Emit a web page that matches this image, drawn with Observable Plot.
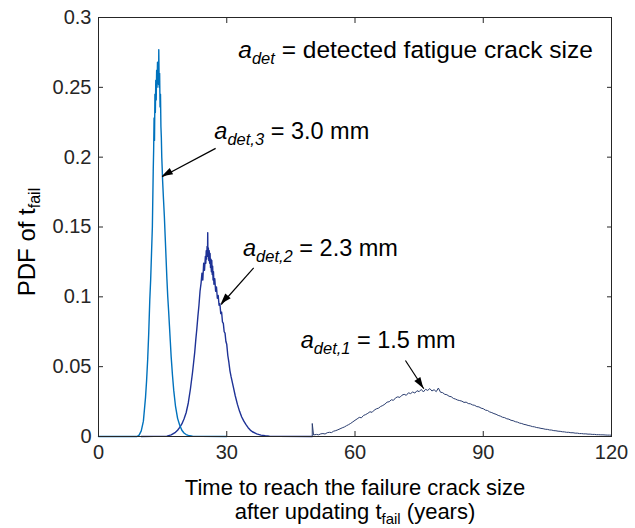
<!DOCTYPE html>
<html><head><meta charset="utf-8">
<script src="https://cdn.jsdelivr.net/npm/d3@7"></script>
<script src="https://cdn.jsdelivr.net/npm/@observablehq/plot@0.6"></script>
<style>body{margin:0;background:#fff} svg{display:block}</style>
</head><body><div id="chart"></div>
<script>
const xTicks = [0, 30, 60, 90, 120];
const yTicks = [0, 0.05, 0.1, 0.15, 0.2, 0.25, 0.3];
const yTickLabels = ["0", "0.05", "0.1", "0.15", "0.2", "0.25", "0.3"];

// a_det,3 = 3.0 mm  [time, pdf]
const curve3 = [[0,0],[9,0],[9.5,0.001],[10,0.004],[10.5,0.011],[11,0.028],[11.25,0.04],[11.5,0.055],[11.75,0.074],[12,0.098],[12.2,0.112],[12.4,0.131],[12.6,0.15],[12.8,0.19],[12.9,0.205],[13,0.228],[13.1,0.212],[13.2,0.245],[13.3,0.232],[13.4,0.255],[13.5,0.241],[13.6,0.262],[13.7,0.25],[13.8,0.268],[13.9,0.256],[14,0.264],[14.05,0.252],[14.1,0.277],[14.2,0.25],[14.3,0.26],[14.4,0.236],[14.5,0.245],[14.6,0.222],[14.7,0.214],[14.8,0.2],[14.9,0.192],[15,0.183],[15.2,0.17],[15.4,0.158],[15.6,0.143],[15.8,0.128],[16,0.113],[16.2,0.1],[16.4,0.09],[16.6,0.079],[16.8,0.068],[17,0.057],[17.3,0.044],[17.6,0.033],[18,0.022],[18.5,0.013],[19,0.008],[19.5,0.0045],[20,0.0025],[20.5,0.0014],[21,0.0008],[22,0.0003],[24,0.0001],[30,0]];

// a_det,2 = 2.3 mm
const curve2 = [[10,0],[16,0.0003],[17,0.0012],[18,0.003],[18.5,0.0045],[19,0.0065],[19.5,0.009],[20,0.0125],[20.5,0.017],[21,0.024],[21.5,0.034],[22,0.046],[22.25,0.053],[22.5,0.06],[22.75,0.069],[23,0.077],[23.25,0.086],[23.5,0.094],[23.75,0.104],[24,0.11],[24.2,0.117],[24.4,0.112],[24.6,0.124],[24.8,0.119],[25,0.129],[25.1,0.124],[25.2,0.133],[25.3,0.127],[25.4,0.136],[25.5,0.13],[25.55,0.146],[25.6,0.129],[25.7,0.135],[25.8,0.126],[25.9,0.133],[26,0.124],[26.1,0.131],[26.2,0.121],[26.3,0.127],[26.4,0.118],[26.5,0.126],[26.6,0.116],[26.7,0.122],[26.8,0.112],[26.9,0.118],[27,0.109],[27.2,0.113],[27.4,0.104],[27.6,0.107],[27.8,0.099],[28,0.101],[28.2,0.094],[28.4,0.095],[28.6,0.088],[28.8,0.089],[29,0.082],[29.2,0.081],[29.4,0.075],[29.6,0.074],[29.8,0.068],[30,0.066],[30.25,0.058],[30.5,0.053],[30.75,0.047],[31,0.043],[31.5,0.036],[32,0.029],[32.5,0.023],[33,0.018],[33.5,0.014],[34,0.011],[34.5,0.0085],[35,0.0063],[35.5,0.0046],[36,0.0034],[37,0.0019],[38,0.001],[39,0.0005],[40,0.0003],[42,0.0001],[50,0]];

// a_det,1 = 1.5 mm
const curve1 = [[50,0],[50,0.0093],[50.3,0.0011],[51,0.0015],[51.5,0.0012],[52,0.0019],[52.5,0.0021],[53,0.0018],[53.5,0.0027],[54,0.003],[54.5,0.0028],[55,0.0038],[55.5,0.0042],[56,0.0048],[56.5,0.0055],[57,0.0062],[57.5,0.0068],[58,0.0077],[58.5,0.0085],[59,0.0094],[59.5,0.0105],[60,0.0116],[60.5,0.0126],[61,0.0137],[61.5,0.0134],[62,0.0151],[62.5,0.0157],[63,0.0166],[63.5,0.0177],[64,0.0173],[64.5,0.0189],[65,0.0198],[65.5,0.0203],[66,0.0215],[66.5,0.0222],[67,0.0232],[67.5,0.0246],[68,0.0249],[68.5,0.0263],[69,0.0259],[69.5,0.0277],[70,0.0284],[70.5,0.028],[71,0.0296],[71.5,0.0302],[72,0.0295],[72.5,0.0313],[73,0.0307],[73.5,0.0319],[74,0.0311],[74.5,0.0328],[75,0.0321],[75.5,0.0337],[76,0.0319],[76.5,0.0338],[77,0.033],[77.5,0.0343],[78,0.0326],[78.5,0.0335],[79,0.0321],[79.5,0.0347],[80,0.0317],[80.5,0.0314],[81,0.0302],[81.5,0.0299],[82,0.0288],[82.5,0.0285],[83,0.0273],[83.5,0.0268],[84,0.0261],[84.5,0.0257],[85,0.0253],[85.5,0.0244],[86,0.0246],[86.5,0.0236],[87,0.0234],[87.5,0.0226],[88,0.0223],[88.5,0.0214],[89,0.0212],[89.5,0.0203],[90,0.0199],[90.5,0.0189],[91,0.0186],[91.5,0.0176],[92,0.0171],[92.5,0.0164],[93,0.0159],[93.5,0.0151],[94,0.0146],[94.5,0.0138],[95,0.0135],[95.5,0.0127],[96,0.0124],[96.5,0.0116],[97,0.0113],[97.5,0.0106],[98,0.0103],[98.5,0.0096],[99,0.0093],[99.5,0.0087],[100,0.0084],[100.5,0.0079],[101,0.0076],[101.5,0.0071],[102,0.0069],[102.5,0.0064],[103,0.0062],[103.5,0.0058],[104,0.0056],[104.5,0.0052],[105,0.0051],[105.5,0.0047],[106,0.0046],[106.5,0.0042],[107,0.0041],[107.5,0.0038],[108,0.0037],[108.5,0.0034],[109,0.0033],[109.5,0.003],[110,0.003],[110.5,0.0027],[111,0.0027],[111.5,0.0024],[112,0.0024],[112.5,0.0021],[113,0.0021],[113.5,0.0019],[114,0.0019],[114.5,0.0017],[115,0.0017],[115.5,0.0015],[116,0.0015],[116.5,0.0013],[117,0.0013],[117.5,0.0012],[118,0.0012],[118.5,0.0011],[119,0.001],[119.5,0.001],[120,0.0009]];

const annotations = [
  {x: 32.7, y: 0.2714, sub: "det", rest: "\u00a0= detected fatigue crack size", size: 24.5},
  {x: 27.1, y: 0.2134, sub: "det,3", rest: "\u00a0= 3.0 mm", size: 23.5},
  {x: 33.8, y: 0.1296, sub: "det,2", rest: "\u00a0= 2.3 mm", size: 23.5},
  {x: 47.3, y: 0.0639, sub: "det,1", rest: "\u00a0= 1.5 mm", size: 23.5}
];
const arrows = [
  {x1: 27.4, y1: 0.2063, x2: 14.9, y2: 0.186},
  {x1: 36.3, y1: 0.1208, x2: 28.7, y2: 0.0945},
  {x1: 71.8, y1: 0.0544, x2: 76.1, y2: 0.0342}
];

const rows = arr => arr.map(([t, p]) => ({t, p}));
const axisColor = "#262626";

const svg = Plot.plot({
  width: 635, height: 528,
  marginLeft: 98, marginRight: 24, marginTop: 17, marginBottom: 92,
  style: {fontFamily: "'Liberation Sans', Arial, Helvetica, sans-serif", fontSize: "20px", background: "#fff", color: axisColor},
  x: {domain: [0, 120], label: null},
  y: {domain: [0, 0.3], label: null},
  marks: [
    Plot.line(rows(curve1), {x: "t", y: "p", stroke: "#2b3e70", strokeWidth: 1}),
    Plot.line(rows(curve2), {x: "t", y: "p", stroke: "#1e3296", strokeWidth: 1.4}),
    Plot.line(rows(curve3), {x: "t", y: "p", stroke: "#0072bd", strokeWidth: 1.4}),
    Plot.link(arrows, {x1: "x1", y1: "y1", x2: "x2", y2: "y2", stroke: "#000", strokeWidth: 1.2}),
    Plot.text(annotations, {x: "x", y: "y", text: d => "a" + d.sub + d.rest, textAnchor: "start", lineAnchor: "middle", dy: -7, fontSize: "size", fill: "#000"}),
    Plot.frame({stroke: axisColor, strokeWidth: 1}),
    Plot.axisX({ticks: xTicks, tickSize: 0, tickPadding: 8, tickFormat: d => String(d), fill: axisColor}),
    Plot.axisY({ticks: yTicks, tickSize: 0, tickPadding: 7, tickFormat: (d, i) => yTickLabels[i], fill: axisColor}),
    Plot.axisX({ticks: xTicks, anchor: "bottom", tickSize: 5, dy: -5, tickFormat: () => "", stroke: axisColor}),
    Plot.axisX({ticks: xTicks, anchor: "top", tickSize: 5, dy: 5, tickFormat: () => "", stroke: axisColor}),
    Plot.axisY({ticks: yTicks, anchor: "left", tickSize: 5, dx: 5, tickFormat: () => "", stroke: axisColor}),
    Plot.axisY({ticks: yTicks, anchor: "right", tickSize: 5, dx: -5, tickFormat: () => "", stroke: axisColor})
  ]
});

document.getElementById("chart").appendChild(svg);
const root = d3.select(svg);

// subscripts in annotations
root.selectAll('g[aria-label="text"] text').each(function (_, i) {
  const a = annotations[i];
  const t = d3.select(this);
  t.text(null);
  t.append("tspan").attr("font-style", "italic").text("a");
  t.append("tspan").attr("font-style", "italic").attr("font-size", 16.5).attr("dy", 6).text(a.sub);
  t.append("tspan").attr("dy", -6).text(a.rest);
});

// filled arrow heads
const sx = svg.scale("x"), sy = svg.scale("y");
const heads = root.append("g");
arrows.forEach(a => {
  const x1 = sx.apply(a.x1), y1 = sy.apply(a.y1), x2 = sx.apply(a.x2), y2 = sy.apply(a.y2);
  const ang = Math.atan2(y2 - y1, x2 - x1), L = 11, W = 3.6;
  const bx = x2 - L * Math.cos(ang), by = y2 - L * Math.sin(ang);
  const px = -Math.sin(ang) * W, py = Math.cos(ang) * W;
  heads.append("path").attr("d", `M${x2},${y2}L${bx + px},${by + py}L${bx - px},${by - py}Z`).attr("fill", "#000");
});

// axis titles
const ff = "'Liberation Sans', Arial, Helvetica, sans-serif";
const yl = root.append("text").attr("transform", "translate(35,242) rotate(-90)")
  .attr("text-anchor", "middle").attr("font-family", ff).attr("font-size", 24).attr("fill", "#000");
yl.append("tspan").text("PDF of t");
yl.append("tspan").attr("font-size", 16).attr("dy", 5).text("fail");

root.append("text").attr("x", 355).attr("y", 495).attr("text-anchor", "middle")
  .attr("font-family", ff).attr("font-size", 22).attr("fill", "#000")
  .text("Time to reach the failure crack size");
const xl2 = root.append("text").attr("x", 355).attr("y", 519).attr("text-anchor", "middle")
  .attr("font-family", ff).attr("font-size", 22).attr("fill", "#000");
xl2.append("tspan").text("after updating t");
xl2.append("tspan").attr("font-size", 15).attr("dy", 5).text("fail");
xl2.append("tspan").attr("dy", -5).text(" (years)");
</script>
</body></html>
